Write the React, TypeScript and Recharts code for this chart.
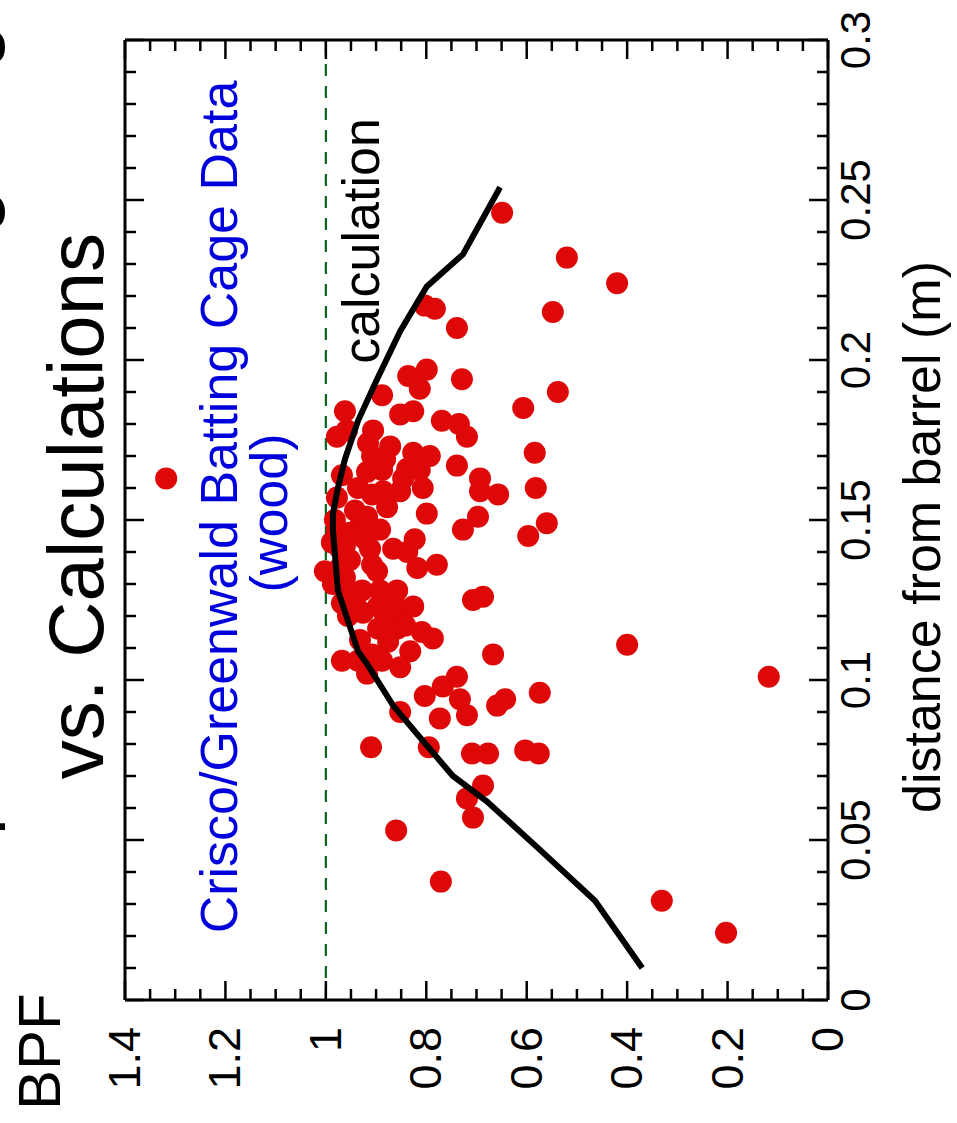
import { ReferenceLine, Scatter, ScatterChart, XAxis, YAxis } from 'recharts';

// chart is drawn upright (1123 x 957) and then turned a quarter turn to the left
const W = 1123;
const H = 957;
const PLOT = { left: 123, right: 1083, top: 125, bottom: 828 };
const FONT = '"Liberation Sans", Arial, Helvetica, sans-serif';

const distTicks = [
  0, 0.01, 0.02, 0.03, 0.04, 0.05, 0.06, 0.07, 0.08, 0.09, 0.1, 0.11, 0.12, 0.13, 0.14, 0.15, 0.16, 0.17,
  0.18, 0.19, 0.2, 0.21, 0.22, 0.23, 0.24, 0.25, 0.26, 0.27, 0.28, 0.29, 0.3,
];
const bpfTicks = [
  0, 0.05, 0.1, 0.15, 0.2, 0.25, 0.3, 0.35, 0.4, 0.45, 0.5, 0.55, 0.6, 0.65, 0.7, 0.75, 0.8, 0.85, 0.9, 0.95,
  1, 1.05, 1.1, 1.15, 1.2, 1.25, 1.3, 1.35, 1.4,
];

// batting cage measurements: distance from barrel end (m), BPF
const cageDist = [
  0.246, 0.215, 0.232, 0.217, 0.216, 0.21, 0.195, 0.197, 0.194, 0.224, 0.19, 0.171, 0.16, 0.149,
  0.184, 0.189, 0.191, 0.183, 0.184, 0.181, 0.18, 0.176, 0.185, 0.178, 0.176, 0.178, 0.174, 0.173,
  0.169, 0.171, 0.166, 0.17, 0.167, 0.163, 0.164, 0.165, 0.16, 0.158, 0.159, 0.159, 0.16, 0.163,
  0.159, 0.158, 0.157, 0.154, 0.151, 0.148, 0.152, 0.151, 0.147, 0.145, 0.147, 0.146, 0.141, 0.143,
  0.141, 0.141, 0.144, 0.14, 0.134, 0.135, 0.136, 0.134, 0.135, 0.136, 0.129, 0.124, 0.128, 0.128,
  0.128, 0.121, 0.123, 0.122, 0.123, 0.116, 0.116, 0.115, 0.113, 0.112, 0.109, 0.125, 0.126, 0.108,
  0.106, 0.106, 0.106, 0.104, 0.102, 0.101, 0.098, 0.095, 0.094, 0.096, 0.092, 0.094, 0.088, 0.089,
  0.09, 0.111, 0.079, 0.079, 0.077, 0.077, 0.078, 0.077, 0.067, 0.063, 0.057, 0.053, 0.037, 0.101,
  0.031, 0.021, 0.163, 0.15, 0.142, 0.1375, 0.13, 0.132, 0.125, 0.12, 0.1125, 0.108, 0.119, 0.123,
  0.117, 0.144, 0.147, 0.153, 0.1656, 0.17, 0.1656,
];
const cageBpf = [
  0.649, 0.548, 0.52, 0.803, 0.783, 0.739, 0.836, 0.799, 0.729, 0.42, 0.538, 0.584, 0.582, 0.56,
  0.962, 0.888, 0.813, 0.852, 0.826, 0.769, 0.735, 0.719, 0.607, 0.958, 0.978, 0.906, 0.916, 0.872,
  0.882, 0.826, 0.838, 0.908, 0.739, 0.693, 0.968, 0.918, 0.936, 0.908, 0.886, 0.852, 0.807, 0.846,
  0.693, 0.657, 0.978, 0.878, 0.918, 0.932, 0.799, 0.697, 0.727, 0.597, 0.978, 0.952, 0.972, 0.988,
  0.912, 0.866, 0.823, 0.838, 1.002, 0.972, 0.908, 0.898, 0.818, 0.779, 0.966, 0.968, 0.928, 0.892,
  0.858, 0.926, 0.896, 0.852, 0.826, 0.896, 0.858, 0.809, 0.787, 0.876, 0.832, 0.707, 0.687, 0.667,
  0.968, 0.936, 0.888, 0.852, 0.918, 0.739, 0.767, 0.803, 0.733, 0.574, 0.659, 0.643, 0.773, 0.719,
  0.852, 0.4, 0.91, 0.795, 0.709, 0.677, 0.603, 0.576, 0.687, 0.719, 0.707, 0.86, 0.771, 0.118,
  0.331, 0.203, 1.318, 0.982, 0.962, 0.952, 0.986, 0.962, 0.942, 0.956, 0.932, 0.908, 0.882, 0.868,
  0.842, 0.922, 0.892, 0.942, 0.888, 0.793, 0.813,
];

// model calculation
const calcDist = [
  0.01, 0.031, 0.047, 0.062, 0.07, 0.081, 0.092, 0.105, 0.109, 0.128, 0.147, 0.152, 0.16, 0.169, 0.181,
  0.194, 0.209, 0.223, 0.233, 0.254,
];
const calcBpf = [
  0.37, 0.464, 0.574, 0.679, 0.747, 0.807, 0.866, 0.918, 0.936, 0.976, 0.986, 0.986, 0.976, 0.962, 0.936,
  0.898, 0.852, 0.799, 0.727, 0.653,
];

const cagePoints = cageDist.map((d, i) => ({ d, bpf: cageBpf[i] }));
const calcPoints = calcDist.map((d, i) => ({ d, bpf: calcBpf[i] }));

const isMajorDist = (v: number) => Math.round(v * 100) % 5 === 0;
const isMajorBpf = (v: number) => Math.round(v * 100) % 20 === 0;

type TickProps = { x?: number; y?: number; payload?: { value: number } };

const BottomTick = ({ x = 0, payload }: TickProps) => {
  const v = payload?.value ?? 0;
  const major = isMajorDist(v);
  return (
    <g>
      <line x1={x} x2={x} y1={PLOT.bottom} y2={PLOT.bottom - (major ? 19 : 11)} stroke="#000" strokeWidth={2.5} />
      {major && (
        <text x={x} y={PLOT.bottom + 42} textAnchor="middle" fontSize={42} fontFamily={FONT} fill="#000">
          {String(v)}
        </text>
      )}
    </g>
  );
};

const TopTick = ({ x = 0, payload }: TickProps) => {
  const v = payload?.value ?? 0;
  const major = isMajorDist(v);
  return <line x1={x} x2={x} y1={PLOT.top} y2={PLOT.top + (major ? 19 : 11)} stroke="#000" strokeWidth={2.5} />;
};

const LeftTick = ({ y = 0, payload }: TickProps) => {
  const v = payload?.value ?? 0;
  const major = isMajorBpf(v);
  return (
    <g>
      <line x1={PLOT.left} x2={PLOT.left + (major ? 19 : 11)} y1={y} y2={y} stroke="#000" strokeWidth={2.5} />
      {major && (
        <text x={PLOT.left - 27} y={y} dy={15} textAnchor="end" fontSize={45} fontFamily={FONT} fill="#000">
          {String(v)}
        </text>
      )}
    </g>
  );
};

const RightTick = ({ y = 0, payload }: TickProps) => {
  const v = payload?.value ?? 0;
  const major = isMajorBpf(v);
  return <line x1={PLOT.right} x2={PLOT.right - (major ? 19 : 11)} y1={y} y2={y} stroke="#000" strokeWidth={2.5} />;
};

const Dot = (props: { cx?: number; cy?: number }) => <circle cx={props.cx} cy={props.cy} r={11} fill="#de0808" />;
const NoDot = () => <g />;

const axisLine = { stroke: '#000', strokeWidth: 3 };

export default function App() {
  return (
    <div style={{ position: 'absolute', left: 0, top: 0, width: H, height: W, overflow: 'hidden', background: '#fff' }}>
      <div
        style={{
          position: 'absolute',
          left: 0,
          top: 0,
          width: W,
          height: H,
          transformOrigin: '0 0',
          transform: `translate(0px, ${W}px) rotate(-90deg)`,
        }}
      >
        <ScatterChart
          width={W}
          height={H}
          margin={{ top: PLOT.top - 1, right: W - PLOT.right - 1, bottom: H - PLOT.bottom - 1, left: PLOT.left - 1 }}
          style={{ overflow: 'visible' }}
        >
          <XAxis
            xAxisId="b"
            type="number"
            dataKey="d"
            domain={[0, 0.3]}
            ticks={distTicks}
            interval={0}
            orientation="bottom"
            height={1}
            tickLine={false}
            axisLine={axisLine}
            tick={<BottomTick />}
            allowDataOverflow
          />
          <XAxis
            xAxisId="t"
            type="number"
            dataKey="d"
            domain={[0, 0.3]}
            ticks={distTicks}
            interval={0}
            orientation="top"
            height={1}
            tickLine={false}
            axisLine={axisLine}
            tick={<TopTick />}
            allowDataOverflow
          />
          <YAxis
            yAxisId="l"
            type="number"
            dataKey="bpf"
            domain={[0, 1.4]}
            ticks={bpfTicks}
            interval={0}
            orientation="left"
            width={1}
            tickLine={false}
            axisLine={axisLine}
            tick={<LeftTick />}
            allowDataOverflow
          />
          <YAxis
            yAxisId="r"
            type="number"
            dataKey="bpf"
            domain={[0, 1.4]}
            ticks={bpfTicks}
            interval={0}
            orientation="right"
            width={1}
            tickLine={false}
            axisLine={axisLine}
            tick={<RightTick />}
            allowDataOverflow
          />
          <ReferenceLine xAxisId="b" yAxisId="l" y={1} stroke="#0b6420" strokeWidth={2.2} strokeDasharray="12 10" />
          <Scatter
            xAxisId="b"
            yAxisId="l"
            data={cagePoints}
            shape={<Dot />}
            isAnimationActive={false}
          />
          <Scatter
            xAxisId="b"
            yAxisId="l"
            data={calcPoints}
            line={{ stroke: '#000', strokeWidth: 6 }}
            lineType="joint"
            shape={<NoDot />}
            isAnimationActive={false}
          />
        </ScatterChart>
        <svg
          width={W}
          height={H}
          style={{ position: 'absolute', left: 0, top: 0, pointerEvents: 'none' }}
          fontFamily={FONT}
        >
          {/* first title line sits almost entirely above the visible area */}
          <text x={123} y={-11} textAnchor="start" fontSize={78} fill="#000">
            Comparisons of Batting Cage Data
          </text>
          <text x={617} y={103} textAnchor="middle" fontSize={78} fill="#000">
            vs. Calculations
          </text>
          <text x={616} y={237} textAnchor="middle" fontSize={52} fill="#0000dd">
            Crisco/Greenwald Batting Cage Data
          </text>
          <text x={610} y={287} textAnchor="middle" fontSize={52} fill="#0000dd">
            (wood)
          </text>
          <text x={882} y={379} textAnchor="middle" fontSize={52} fill="#000">
            calculation
          </text>
          <text x={13} y={60} textAnchor="start" fontSize={60} fill="#000">
            BPF
          </text>
          <text x={586} y={940} textAnchor="middle" fontSize={52} fill="#000">
            distance from barrel (m)
          </text>
        </svg>
      </div>
    </div>
  );
}
